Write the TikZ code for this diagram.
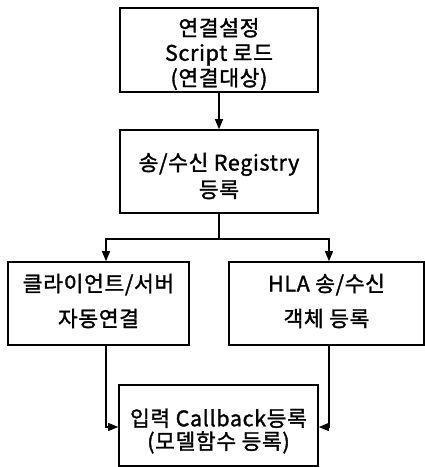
\documentclass[tikz,border=0pt]{standalone}
\usepackage{fontspec}
\setmainfont{Noto Sans CJK KR}[FakeBold=1.5,LetterSpace=3]
\usetikzlibrary{arrows.meta}
\begin{document}
\begin{tikzpicture}[x=1pt,y=-1pt,
 box/.style={draw,line width=1.6pt,inner sep=0pt},
 txt/.style={inner sep=0pt,align=center,font=\fontsize{21.5}{25}\selectfont},
 conn/.style={line width=1.3pt},
 arr/.style={conn,-{Triangle[length=10pt,width=8pt]}}]
\useasboundingbox (0,0) rectangle (425,467);
\node[box,minimum width=198pt,minimum height=84pt] (b1) at (219,50) {};
\node[txt] (t1) at (219,54) {연결설정\\Script 로드\\(연결대상)};
\node[box,minimum width=198pt,minimum height=83pt] (b2) at (219,171.5) {};
\node[txt] (t2) at (219,176) {송/수신 Registry\\[2pt]등록};
\node[box,minimum width=181pt,minimum height=83pt] (b3) at (98.5,303.5) {};
\node[txt] (t3) at (98.5,301) {클라이언트/서버\\[10pt]자동연결};
\node[box,minimum width=195pt,minimum height=83pt] (b4) at (326.5,303.5) {};
\node[txt] (t4) at (326.5,301) {HLA 송/수신\\[10pt]객체 등록};
\node[box,minimum width=199pt,minimum height=81pt] (b5) at (218.5,425.5) {};
\node[txt,font=\fontsize{21.5}{23}\selectfont] (t5) at (218.5,431) {입력 Callback등록\\(모델함수 등록)};
\coordinate (j) at (219,239);
\coordinate (c3) at (106,239);
\coordinate (c4) at (329,239);
\coordinate (m3) at (106,427);
\coordinate (m4) at (329,427);
\draw[arr] (b1.south) -- (b2.north);
\draw[conn] (b2.south) -- (j);
\draw[arr] (j) -- (c3) -- (c3 |- b3.north);
\draw[arr] (j) -- (c4) -- (c4 |- b4.north);
\draw[arr] (c3 |- b3.south) -- (m3) -- (m3 -| b5.west);
\draw[arr] (c4 |- b4.south) -- (m4) -- (m4 -| b5.east);
\end{tikzpicture}
\end{document}
